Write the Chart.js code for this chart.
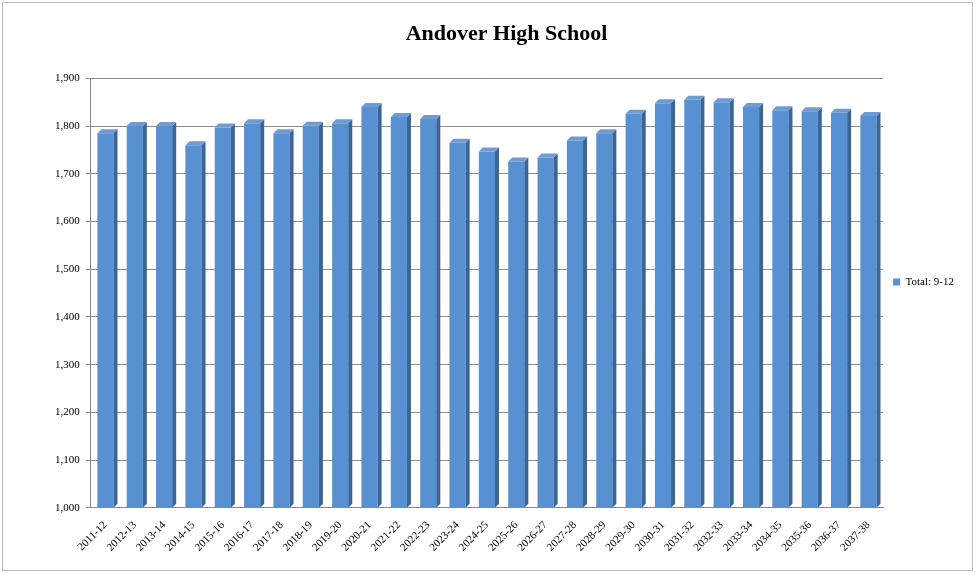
<!DOCTYPE html>
<html>
<head>
<meta charset="utf-8">
<script src="https://cdn.jsdelivr.net/npm/chart.js@4"></script>
<style>
  body { margin: 0; background: #fff; }
  #wrap { position: absolute; left: 2px; top: 2px; width: 971px; height: 569px; border: 1px solid #bdbdbd; box-sizing: border-box; }
</style>
</head>
<body>
<div id="wrap"><canvas id="c"></canvas></div>
<script>
const years = ['2011-12','2012-13','2013-14','2014-15','2015-16','2016-17','2017-18','2018-19','2019-20','2020-21',
  '2021-22','2022-23','2023-24','2024-25','2025-26','2026-27','2027-28','2028-29','2029-30','2030-31',
  '2031-32','2032-33','2033-34','2034-35','2035-36','2036-37','2037-38'];
const totals = [1785,1800,1800,1760,1797,1806,1785,1801,1806,1840,
  1819,1815,1765,1747,1726,1734,1770,1785,1826,1848,
  1855,1850,1840,1833,1831,1828,1821];

// fake 3D: darker side face and top on each bar
const depth = {
  id: 'depth',
  afterDatasetsDraw(chart) {
    const ctx = chart.ctx;
    const d = 4;
    const b = chart.scales.y.bottom;
    chart.getDatasetMeta(0).data.forEach(bar => {
      const r = bar.x + bar.width / 2, l = bar.x - bar.width / 2;
      const t = bar.y;
      ctx.save();
      ctx.fillStyle = '#3b6597';
      ctx.beginPath();
      ctx.moveTo(r, t); ctx.lineTo(r + d, t - d); ctx.lineTo(r + d, b - d); ctx.lineTo(r, b);
      ctx.fill();
      ctx.fillStyle = '#6f9bd0';
      ctx.beginPath();
      ctx.moveTo(l, t); ctx.lineTo(l + d, t - d); ctx.lineTo(r + d, t - d); ctx.lineTo(r, t);
      ctx.fill();
      ctx.restore();
    });
  }
};

new Chart(document.getElementById('c'), {
  type: 'bar',
  data: {
    labels: years,
    datasets: [{ label: 'Total: 9-12', data: totals, backgroundColor: '#5791d2', borderWidth: 0,
      barPercentage: 0.55, categoryPercentage: 1 }]
  },
  options: {
    responsive: true, maintainAspectRatio: false, animation: false,
    layout: { padding: { left: 46, right: 8, top: 4, bottom: 13 } },
    plugins: {
      title: { display: true, text: 'Andover High School', color: '#000',
        font: { family: 'Liberation Serif', size: 22, weight: 'bold' }, padding: { top: 14, bottom: 31 } },
      legend: { position: 'right', labels: { boxWidth: 7, boxHeight: 7, color: '#000',
        font: { family: 'Liberation Serif', size: 11 } } },
      tooltip: { enabled: false }
    },
    scales: {
      x: { grid: { display: false }, border: { color: '#888' },
        ticks: { color: '#000', maxRotation: 45, minRotation: 45, font: { family: 'Liberation Serif', size: 11 } } },
      y: { min: 1000, max: 1900, ticks: { stepSize: 100, color: '#000', padding: 6,
          font: { family: 'Liberation Serif', size: 11 } },
        grid: { color: '#8c8c8c', tickLength: 5 }, border: { color: '#888' } }
    }
  },
  plugins: [depth]
});
</script>
</body>
</html>
